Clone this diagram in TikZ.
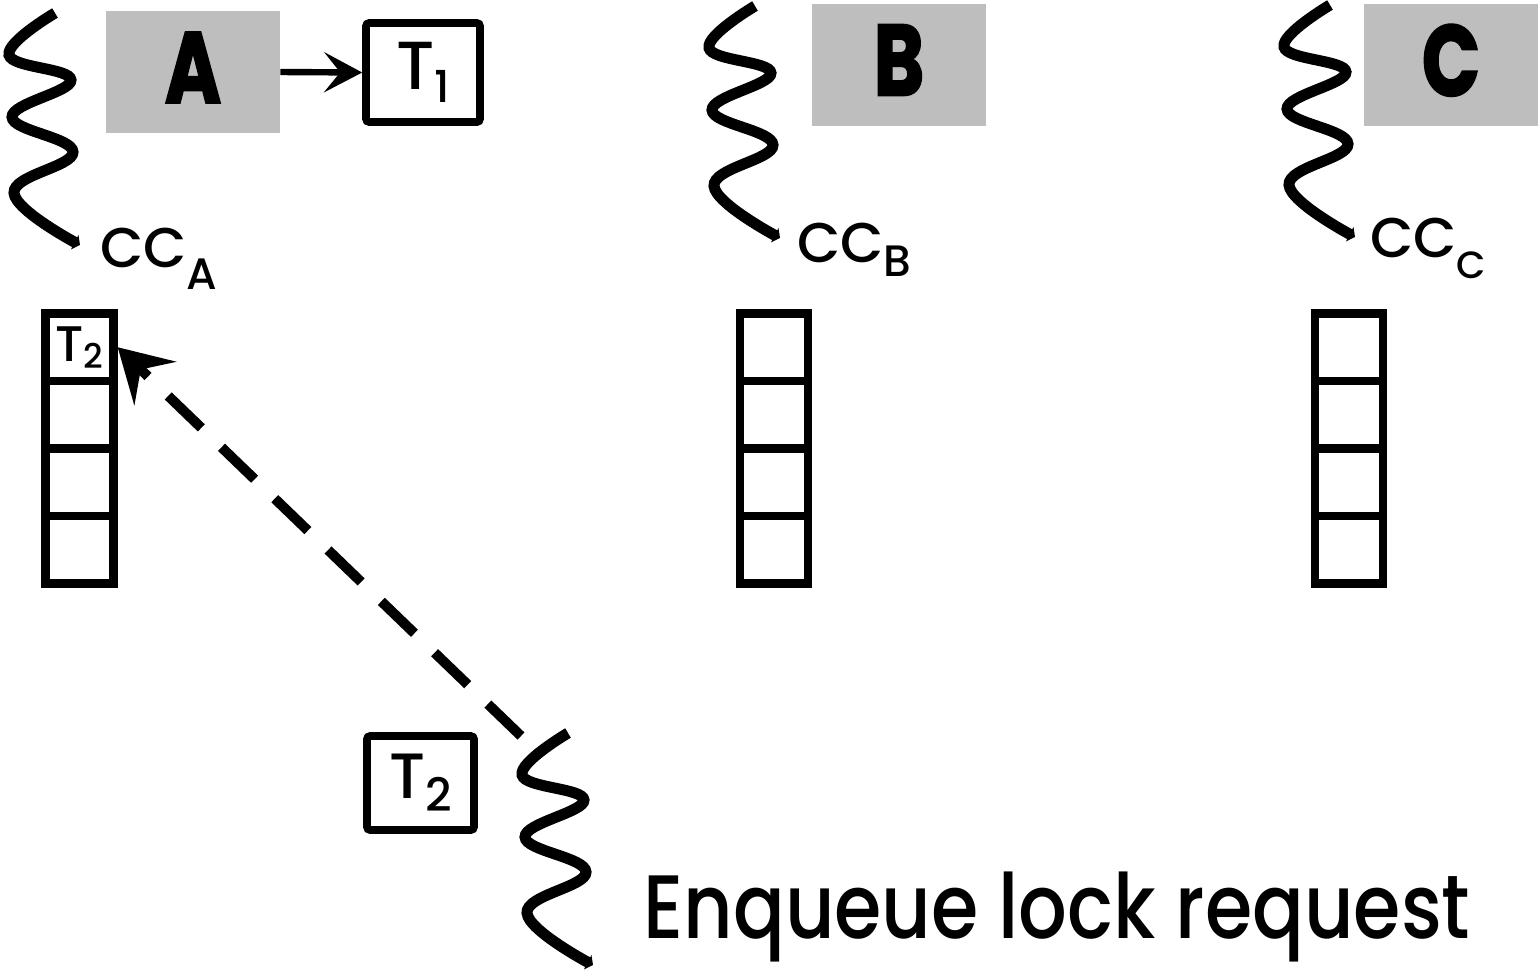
\documentclass[tikz,border=0pt]{standalone}
\usepackage{fontspec}
\setmainfont{Poppins Medium}
\newfontfamily\heavyfont{Poppins Bold}[FakeBold=2.5]
\usetikzlibrary{arrows.meta}
\definecolor{boxgray}{HTML}{BEBEBE}
% label with a dropped subscript: #1 main size, #2 sub size, #3 drop, #4 main text, #5 sub text
\newcommand\sublabel[5]{{\fontsize{#1}{#1}\selectfont #4}\raisebox{-#3}{\fontsize{#2}{#2}\selectfont #5}}
\newcommand\bigletter[1]{\raisebox{4.5pt}{\fontsize{50}{50}\selectfont\heavyfont\scalebox{0.76}[1]{#1}}}
\begin{document}
\begin{tikzpicture}[x=0.5pt,y=-0.5pt,
  threadline/.style={line width=5.5pt, -{Triangle[length=3pt,width=8pt]}},
  thread/.pic={\draw[threadline] plot[smooth,tension=0.7] coordinates
      {(0,0) (-46,42) (16,67) (-43,104) (18,139) (-41,180) (25,232)};},
  graybox/.style={fill=boxgray, minimum width=87pt, minimum height=61pt, inner sep=0},
  tbox/.style={draw, line width=3.8pt, rounded corners=1.5pt, inner sep=0},
  cell/.style={draw, line width=4.2pt, minimum width=34pt, minimum height=33.75pt, inner sep=0},
  lbl/.style={inner sep=0, anchor=base west},
]
\useasboundingbox[fill=white] (0,0) rectangle (1538,976);

% threads
\pic at (55,13) {thread};
\pic at (755,6) {thread};
\pic at (1330,5) {thread};
\pic at (568,733) {thread};

% sites
\node[graybox] (boxA) at (193,72) {\bigletter{A}};
\node[graybox] (boxB) at (899,64.5) {\bigletter{B}};
\node[graybox] (boxC) at (1451,64.5) {\bigletter{C}};

% lock holder of A
\node[tbox, minimum width=57pt, minimum height=49.5pt] (t1) at (423,72.5)
  {\sublabel{34}{22}{6.5pt}{T}{1}};
\draw[line width=3.2pt, -{Stealth[length=19pt,width=20pt,inset=8pt]}] (boxA.east) -- (t1.west);

% lock managers
\node[lbl] (ccA) at (100,267) {\sublabel{28}{22}{11pt}{CC}{A}};
\node[lbl] (ccB) at (797,262) {\sublabel{28}{22}{7pt}{CC}{B}};
\node[lbl] (ccC) at (1370,257) {\sublabel{28}{19}{10.5pt}{CC}{C}};

% queues
\foreach \s/\x in {A/79.5, B/774, C/1349}{
  \foreach \i/\y in {1/347.25, 2/414.75, 3/482.25, 4/549.75}
    \node[cell] (q\s\i) at (\x,\y) {};
}
\node[inner sep=0] (qT) at (qA1) {\sublabel{25}{17}{3.5pt}{T}{2}};

% requesting transaction
\node[tbox, minimum width=53.5pt, minimum height=47pt] (t2) at (420.5,783)
  {\sublabel{32}{23}{6.5pt}{T}{2}};
\coordinate (src) at (521,736);
\draw[line width=5pt, dash pattern=on 23pt off 14pt,
      -{Stealth[length=26pt,width=30pt,inset=10pt]}] (src) -- (qA1.east);

\node[lbl] (req) at (643,938) {\fontsize{45}{45}\selectfont\scalebox{0.85}[1]{Enqueue lock request}};
\end{tikzpicture}
\end{document}
